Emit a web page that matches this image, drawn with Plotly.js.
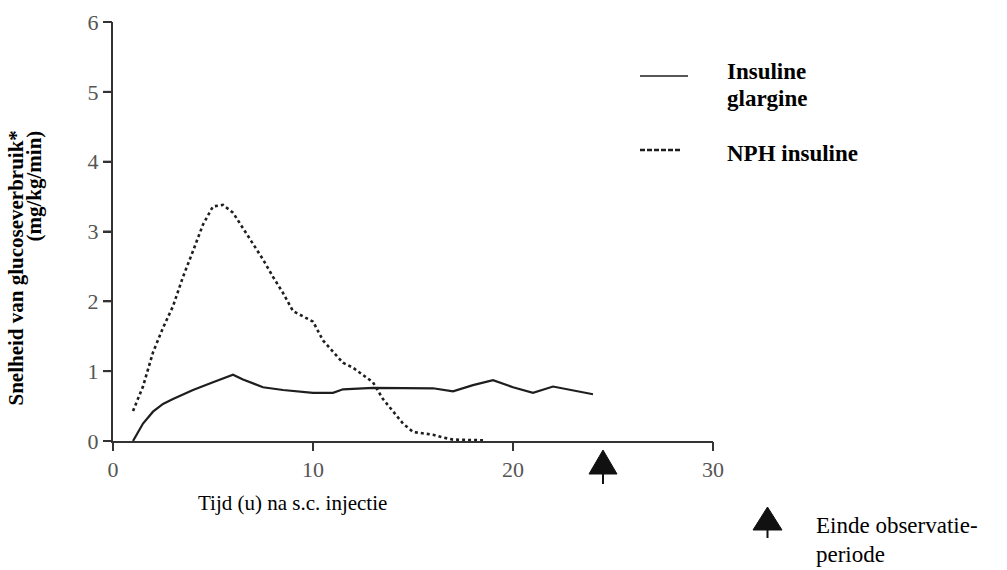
<!DOCTYPE html>
<html>
<head>
<meta charset="utf-8">
<script src="https://cdn.plot.ly/plotly-3.0.1.min.js"></script>
<style>html,body{margin:0;padding:0;background:#fff;}#chart{width:1007px;height:570px;}</style>
</head>
<body>
<div id="chart"></div>
<script>
// ---- data ----
const glargineHours = [1, 1.5, 2, 2.5, 3, 3.5, 4, 5, 6, 6.5, 7, 7.5, 8.5, 10, 11, 11.5, 13, 16, 17, 18, 19, 20, 21, 22, 24];
const glargineRate  = [0, 0.25, 0.42, 0.53, 0.6, 0.67, 0.73, 0.84, 0.95, 0.88, 0.82, 0.77, 0.73, 0.69, 0.69, 0.74, 0.76, 0.755, 0.71, 0.8, 0.87, 0.77, 0.69, 0.78, 0.67];

const nphHours = [1, 1.5, 2, 2.5, 3, 3.5, 4, 4.5, 5, 5.5, 6, 6.5, 7, 7.5, 8, 8.5, 9, 9.5, 10, 10.5, 11, 11.5, 12, 12.5, 13, 13.5, 14, 14.5, 15, 16, 16.5, 17, 18.5];
const nphRate  = [0.43, 0.78, 1.27, 1.62, 1.93, 2.35, 2.72, 3.1, 3.36, 3.38, 3.27, 3.05, 2.82, 2.6, 2.35, 2.12, 1.86, 1.78, 1.71, 1.44, 1.28, 1.12, 1.05, 0.95, 0.84, 0.6, 0.42, 0.25, 0.13, 0.09, 0.05, 0.02, 0.01];

const xTicks = [0, 10, 20, 30];
const yTicks = [0, 1, 2, 3, 4, 5, 6];
const xRange = [0, 30];
const yRange = [0, 6];
const observationEnd = 24.5;

const seriesNames = ['Insuline glargine', 'NPH insuline'];
const xTitle = 'Tijd (u) na s.c. injectie';
const yTitleLine1 = 'Snelheid van glucoseverbruik*';
const yTitleLine2 = '(mg/kg/min)';
const legendLine1 = 'Insuline';
const legendLine2 = 'glargine';
const legendNph = 'NPH insuline';
const arrowNote1 = 'Einde observatie-';
const arrowNote2 = 'periode';

// ---- layout geometry (pixels) ----
const W = 1007, H = 570;
const M = {l: 113, r: 294, t: 22, b: 129};
const PW = W - M.l - M.r, PH = H - M.t - M.b;
const px = v => (v - M.l) / PW;          // page pixel x -> paper
const py = v => (H - M.b - v) / PH;      // page pixel y -> paper
const xFrac = v => (v - xRange[0]) / (xRange[1] - xRange[0]);
const yFrac = v => (v - yRange[0]) / (yRange[1] - yRange[0]);
const tickLenPx = 9;
const tickLenX = tickLenPx / PW * (xRange[1] - xRange[0]);   // tick length in x units
const tickLenY = tickLenPx / PH * (yRange[1] - yRange[0]);   // tick length in y units

const serif = 'Liberation Serif';
const ink = '#1e1e1e';
const axisInk = '#333';

// outside tick marks built from the tick arrays
const xtX = [], xtY = [], ytX = [], ytY = [];
xTicks.forEach(v => { xtX.push(v, v, null); xtY.push(yRange[0], yRange[0] - tickLenY, null); });
yTicks.forEach(v => { ytX.push(xRange[0], xRange[0] - tickLenX, null); ytY.push(v, v, null); });

const traces = [
  {x: glargineHours, y: glargineRate, name: seriesNames[0], mode: 'lines',
   line: {color: ink, width: 2.2}, cliponaxis: false},
  {x: nphHours, y: nphRate, name: seriesNames[1], mode: 'lines',
   line: {color: ink, width: 2.6, dash: 'dot'}, cliponaxis: false},
  {x: xtX, y: xtY, mode: 'lines', line: {color: axisInk, width: 2}, cliponaxis: false,
   hoverinfo: 'skip', showlegend: false, connectgaps: false},
  {x: ytX, y: ytY, mode: 'lines', line: {color: axisInk, width: 2}, cliponaxis: false,
   hoverinfo: 'skip', showlegend: false, connectgaps: false}
];

const tri = (hw, top, bot) => `M${-hw},${-bot} L${hw},${-bot} L0,${-top} Z`;
const pixShape = (xa, ya, path, style) => Object.assign({
  type: 'path', xref: 'paper', yref: 'paper', xsizemode: 'pixel', ysizemode: 'pixel',
  xanchor: xa, yanchor: ya, path: path
}, style);

const shapes = [];
xTicks.forEach(v => shapes.push(pixShape(xFrac(v), 0, 'M0,-1 L0,-9', {line: {color: axisInk, width: 2}})));
yTicks.forEach(v => shapes.push(pixShape(0, yFrac(v), 'M-1,0 L-10,0', {line: {color: axisInk, width: 2}})));
// end-of-observation arrow under the time axis
shapes.push(pixShape(xFrac(observationEnd), 0, tri(14, 9, 33), {fillcolor: '#111', line: {color: '#111', width: 1}}));
shapes.push(pixShape(xFrac(observationEnd), 0, 'M0,-33 L0,-43', {line: {color: '#111', width: 2}}));
// arrow in the note
shapes.push(pixShape(px(767.5), 0, tri(14.5, 66, 89), {fillcolor: '#111', line: {color: '#111', width: 1}}));
shapes.push(pixShape(px(767.5), 0, 'M0,-89 L0,-97', {line: {color: '#111', width: 2}}));
// legend samples
shapes.push(pixShape(0, 0, `M${640 - M.l},${H - M.b - 76} L${688 - M.l},${H - M.b - 76}`, {line: {color: ink, width: 1.5}}));
shapes.push(pixShape(0, 0, `M${640 - M.l},${H - M.b - 150} L${682 - M.l},${H - M.b - 150}`, {line: {color: ink, width: 2.5, dash: '5px,2px'}}));

const ann = (text, x, y, size, bold, extra) => Object.assign({
  text: bold ? '<b>' + text + '</b>' : text, xref: 'paper', yref: 'paper',
  x: px(x), y: py(y), xanchor: 'left', yanchor: 'middle', showarrow: false,
  font: {family: serif, size: size, color: '#000'}
}, extra || {});

const annotations = [
  ann(legendLine1, 725, 71, 23, true),
  ann(legendLine2, 725, 98, 23, true),
  ann(legendNph, 725, 153, 23, true),
  ann(xTitle, 196, 503, 21, false),
  ann(arrowNote1, 814, 525, 23, false),
  ann(arrowNote2, 814, 554, 23, false),
  ann(yTitleLine1, 15, 129, 21, true, {textangle: -90, xanchor: 'center', yanchor: 'top'}),
  ann(yTitleLine2, 33, 129, 21, true, {textangle: -90, xanchor: 'center', yanchor: 'top'})
];

const axisCommon = {
  showline: true, linecolor: axisInk, linewidth: 2,
  showgrid: false, zeroline: false, ticks: 'outside', ticklen: 8, tickwidth: 2, tickcolor: axisInk,
  tickfont: {family: serif, size: 22, color: '#555'}
};

const layout = {
  width: W, height: H, margin: M, showlegend: false,
  xaxis: Object.assign({}, axisCommon, {range: xRange, tickvals: xTicks}),
  yaxis: Object.assign({}, axisCommon, {range: yRange, tickvals: yTicks}),
  shapes: shapes, annotations: annotations
};

Plotly.newPlot('chart', traces, layout, {displayModeBar: false});
</script>
</body>
</html>
